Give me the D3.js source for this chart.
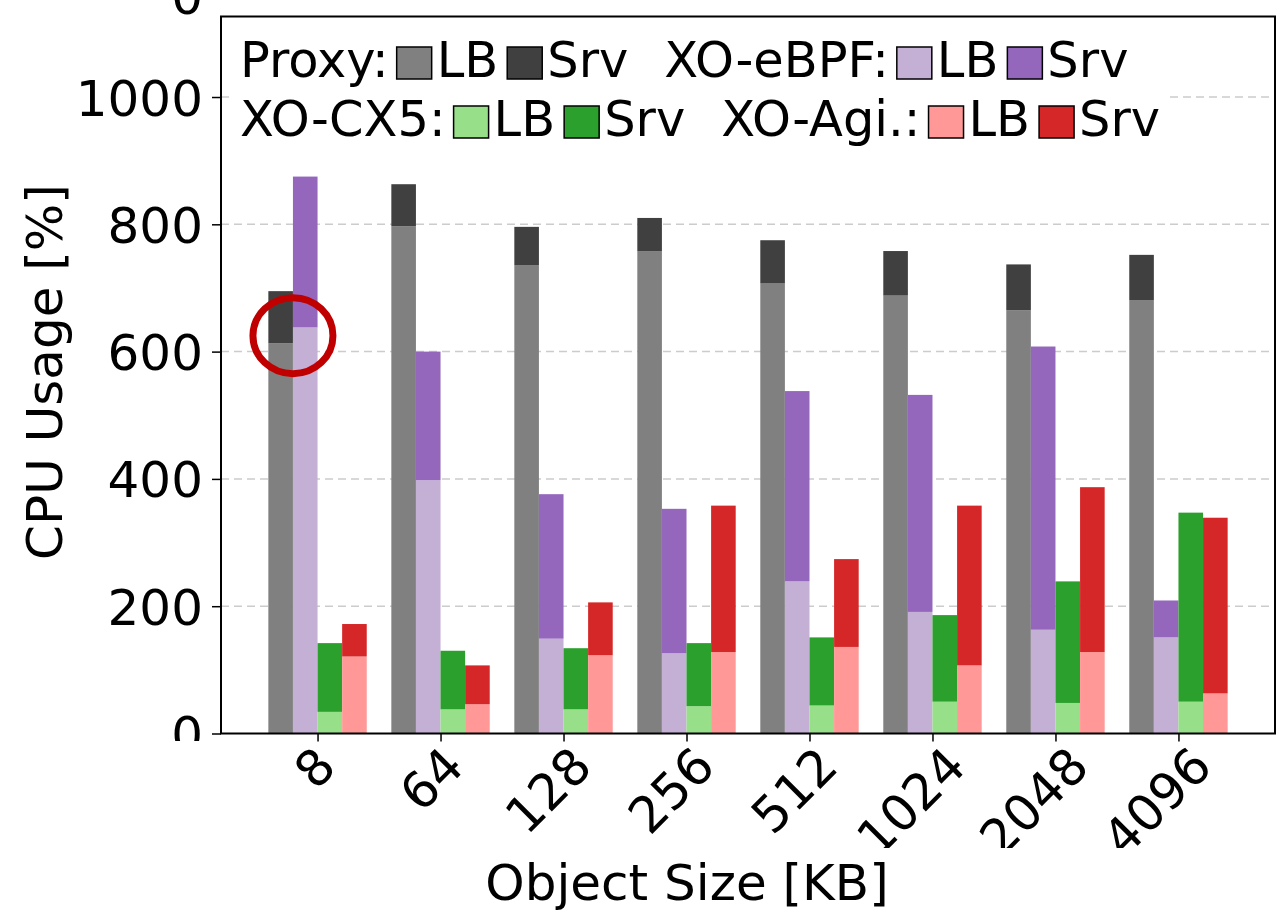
<!DOCTYPE html>
<html>
<head>
<meta charset="utf-8">
<script src="https://cdn.jsdelivr.net/npm/d3@7"></script>
<style>
  html, body { margin: 0; padding: 0; background: #fff; }
  svg { display: block; }
  text { font-family: "DejaVu Sans", sans-serif; fill: #000; }
</style>
</head>
<body>
<svg id="chart" width="1276" height="911"></svg>
<script>
// ---- data ----
const categories = ["8", "64", "128", "256", "512", "1024", "2048", "4096"];
const proxyLB  = [613, 797, 736, 758, 707, 688, 665, 681];
const proxySrv = [82, 66, 60, 52, 68, 70, 72, 71];
const ebpfLB   = [638, 398, 149, 126, 239, 191, 163, 151];
const ebpfSrv  = [237, 202, 227, 227, 299, 341, 445, 58];
const cx5LB    = [34, 38, 38, 43, 44, 50, 48, 50];
const cx5Srv   = [108, 92, 96, 99, 107, 136, 191, 297];
const agiLB    = [121, 46, 123, 128, 136, 107, 128, 63];
const agiSrv   = [51, 61, 83, 230, 138, 251, 259, 276];
const yTicks   = [0, 200, 400, 600, 800, 1000];
const seriesNames = ["Proxy:", "XO-eBPF:", "XO-CX5:", "XO-Agi.:"];
const partNames = ["LB", "Srv"];
const highlightValue = 625;

// ---- styling / layout ----
const colors = [
  ["#808080", "#404040"],
  ["#c5b0d5", "#9467bd"],
  ["#98df8a", "#2ca02c"],
  ["#ff9896", "#d62728"]
];
const series = [
  [proxyLB, proxySrv],
  [ebpfLB, ebpfSrv],
  [cx5LB, cx5Srv],
  [agiLB, agiSrv]
];
const plot = { left: 221, right: 1275, top: 16.5, bottom: 733.5 };
const fontTick = 50, fontLegend = 49.5, fontLabel = 50;
const barW = 0.2;

const svg = d3.select("#chart");
const x = d3.scaleLinear().domain([-0.785, categories.length - 1 + 0.785]).range([plot.left, plot.right]);
const y = d3.scaleLinear().domain([0, 1126.5]).range([plot.bottom, plot.top]);

const defs = svg.append("defs");
defs.append("clipPath").attr("id", "clipY").attr("clipPathUnits", "userSpaceOnUse")
  .append("rect").attr("x", 0).attr("y", 0).attr("width", plot.left).attr("height", 741);
defs.append("clipPath").attr("id", "clipX").attr("clipPathUnits", "userSpaceOnUse")
  .append("rect").attr("x", 0).attr("y", plot.bottom).attr("width", 1276).attr("height", 848 - plot.bottom);

// gridlines
svg.append("g").selectAll("line").data(yTicks.filter(v => v > 0)).join("line")
  .attr("x1", plot.left).attr("x2", plot.right)
  .attr("y1", d => y(d)).attr("y2", d => y(d))
  .attr("stroke", "#cccccc").attr("stroke-width", 1.5).attr("stroke-dasharray", "8,5");

// bars
const barG = svg.append("g");
series.forEach((parts, j) => {
  categories.forEach((c, i) => {
    const lb = parts[0][i], srv = parts[1][i];
    const x0 = x(i - 0.4 + barW * j), w = x(barW) - x(0);
    barG.append("rect").attr("x", x0).attr("width", w)
      .attr("y", y(lb)).attr("height", y(0) - y(lb)).attr("fill", colors[j][0]);
    barG.append("rect").attr("x", x0).attr("width", w)
      .attr("y", y(lb + srv)).attr("height", y(lb) - y(lb + srv)).attr("fill", colors[j][1]);
  });
});

// y axis
const yAxisOuter = svg.append("g").attr("clip-path", "url(#clipY)");
const yAxis = yAxisOuter.append("g").attr("transform", `translate(${plot.left},0)`)
  .call(d3.axisLeft(y).tickValues(yTicks).tickFormat(d3.format("d")).tickSize(9).tickPadding(9).tickSizeOuter(0));
yAxis.select(".domain").remove();
yAxis.selectAll(".tick line").attr("stroke", "#000").attr("stroke-width", 1.5);
yAxis.selectAll(".tick text").attr("font-size", fontTick).attr("font-family", "DejaVu Sans").attr("dy", "0.36em");

// stray clipped glyph at the very top-left (present in the source image)
svg.append("text").attr("x", plot.left - 18).attr("y", 14)
  .attr("text-anchor", "end").attr("font-size", fontTick).text("0");

// x axis
const xAxisOuter = svg.append("g").attr("clip-path", "url(#clipX)");
const xAxis = xAxisOuter.append("g").attr("transform", `translate(0,${plot.bottom})`)
  .call(d3.axisBottom(x).tickValues(d3.range(categories.length)).tickFormat(i => categories[i]).tickSize(8).tickSizeOuter(0));
xAxis.select(".domain").remove();
xAxis.selectAll(".tick line").attr("stroke", "#000").attr("stroke-width", 1.5);
xAxis.selectAll(".tick text")
  .attr("font-size", fontTick).attr("font-family", "DejaVu Sans")
  .attr("text-anchor", "end").attr("y", 0).attr("dy", 0)
  .each(function () {
    const w = this.getComputedTextLength();
    d3.select(this).attr("transform", `translate(${15 + 0.16 * w},${769 - plot.bottom}) rotate(-45)`);
  });

// frame
svg.append("rect").attr("x", plot.left).attr("y", plot.top)
  .attr("width", plot.right - plot.left).attr("height", plot.bottom - plot.top)
  .attr("fill", "none").attr("stroke", "#000").attr("stroke-width", 2);

// axis labels
svg.append("text").attr("transform", `translate(62,372) rotate(-90)`)
  .attr("text-anchor", "middle").attr("font-size", fontLabel).text("CPU Usage [%]");
svg.append("text").attr("x", 687).attr("y", 900)
  .attr("text-anchor", "middle").attr("font-size", fontLabel).text("Object Size [KB]");

// legend
const legG = svg.append("g");
legG.append("rect").attr("x", 232).attr("y", 25).attr("width", 938).attr("height", 125).attr("fill", "#fff");
const rowBase = [77, 136];
const sqW = 35, sqH = 32;
[[0, 1], [2, 3]].forEach((row, r) => {
  let cx = 240;
  const by = rowBase[r];
  row.forEach((si, k) => {
    const t = legG.append("text").attr("x", cx).attr("y", by).attr("font-size", fontLegend).text(seriesNames[si]);
    cx += t.node().getComputedTextLength() + 8;
    partNames.forEach((pn, p) => {
      legG.append("rect").attr("x", cx).attr("y", by - 30).attr("width", sqW).attr("height", sqH)
        .attr("fill", colors[si][p]).attr("stroke", "#000").attr("stroke-width", 1.5);
      cx += sqW + 5;
      const tt = legG.append("text").attr("x", cx).attr("y", by).attr("font-size", fontLegend).text(pn);
      cx += tt.node().getComputedTextLength() + (p === 0 ? 9 : 0);
    });
    cx += 36;
  });
});

// highlight circle
svg.append("ellipse")
  .attr("cx", x(0 - barW)).attr("cy", y(highlightValue))
  .attr("rx", 40).attr("ry", 38)
  .attr("fill", "none").attr("stroke", "#c00000").attr("stroke-width", 7);
</script>
</body>
</html>
